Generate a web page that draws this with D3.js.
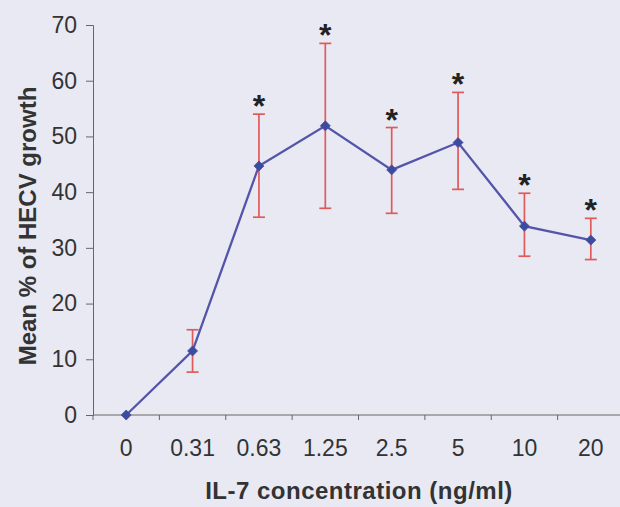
<!DOCTYPE html>
<html>
<head>
<meta charset="utf-8">
<script src="https://cdn.jsdelivr.net/npm/d3@7"></script>
<style>
  html, body { margin: 0; padding: 0; background: #e9e9f3; }
  svg { display: block; }
</style>
</head>
<body>
<svg id="chart"></svg>
<script>
// concentrations (ng/ml) and mean growth with error limits
const concentrations = ["0", "0.31", "0.63", "1.25", "2.5", "5", "10", "20"];
const meanGrowth = [0, 11.5, 44.7, 51.9, 44.0, 48.9, 33.9, 31.4];
const errorHigh = [null, 15.3, 54.0, 66.7, 51.6, 57.9, 39.8, 35.3];
const errorLow = [null, 7.7, 35.5, 37.1, 36.2, 40.5, 28.5, 27.9];
const significant = [false, false, true, true, true, true, true, true];
const yTicks = [0, 10, 20, 30, 40, 50, 60, 70];

const width = 620, height = 507;
const margin = { top: 25, right: -4, bottom: 92, left: 93 };
const font = "Liberation Sans, Arial, sans-serif";

const svg = d3.select("#chart")
    .attr("width", width)
    .attr("height", height);

svg.append("rect")
    .attr("width", width)
    .attr("height", height)
    .attr("fill", "#e9e9f3");

const innerW = width - margin.left - margin.right;
const innerH = height - margin.top - margin.bottom;

const g = svg.append("g")
    .attr("transform", `translate(${margin.left},${margin.top})`);

const data = concentrations.map((c, i) => ({
    conc: c,
    mean: meanGrowth[i],
    hi: errorHigh[i],
    lo: errorLow[i],
    sig: significant[i]
}));

const x = d3.scaleBand()
    .domain(concentrations)
    .range([0, innerW]);

const y = d3.scaleLinear()
    .domain([0, 70])
    .range([innerH, 0]);

const cx = d => x(d.conc) + x.bandwidth() / 2;

// y axis
const yAxis = g.append("g")
    .call(d3.axisLeft(y).tickValues(yTicks).tickSize(7).tickPadding(9));
yAxis.select(".domain").attr("stroke", "#666").attr("stroke-width", 1);
yAxis.selectAll(".tick line").attr("stroke", "#666");
yAxis.selectAll(".tick text")
    .attr("fill", "#333")
    .style("font-family", font)
    .style("font-size", "23px");

// x axis, ticks between categories
const xAxis = g.append("g")
    .attr("transform", `translate(0,${innerH})`);
xAxis.append("line")
    .attr("x1", 0).attr("x2", innerW)
    .attr("stroke", "#666");
xAxis.selectAll(".sep")
    .data(concentrations)
    .join("line")
    .attr("class", "sep")
    .attr("x1", d => x(d)).attr("x2", d => x(d))
    .attr("y1", 0).attr("y2", 5)
    .attr("stroke", "#666");
xAxis.selectAll(".lbl")
    .data(concentrations)
    .join("text")
    .attr("class", "lbl")
    .attr("x", d => x(d) + x.bandwidth() / 2)
    .attr("y", 41)
    .attr("text-anchor", "middle")
    .attr("fill", "#333")
    .style("font-family", font)
    .style("font-size", "23px")
    .text(d => d);

// axis titles
svg.append("text")
    .attr("x", 359)
    .attr("y", 499)
    .attr("text-anchor", "middle")
    .attr("fill", "#333")
    .style("font-family", font)
    .style("font-weight", "bold")
    .style("font-size", "24px")
    .style("letter-spacing", "0.5px")
    .text("IL-7 concentration (ng/ml)");

svg.append("text")
    .attr("transform", "translate(36,226) rotate(-90)")
    .attr("text-anchor", "middle")
    .attr("fill", "#333")
    .style("font-family", font)
    .style("font-weight", "bold")
    .style("font-size", "24px")
    .text("Mean % of HECV growth");

// error bars
const errData = data.filter(d => d.hi !== null);
const eb = g.append("g")
    .attr("stroke", "#e05a5a")
    .attr("stroke-width", 1.7);
eb.selectAll(".stem")
    .data(errData)
    .join("line")
    .attr("x1", cx).attr("x2", cx)
    .attr("y1", d => y(d.hi)).attr("y2", d => y(d.lo));
eb.selectAll(".capHi")
    .data(errData)
    .join("line")
    .attr("x1", d => cx(d) - 6).attr("x2", d => cx(d) + 6)
    .attr("y1", d => y(d.hi)).attr("y2", d => y(d.hi));
eb.selectAll(".capLo")
    .data(errData)
    .join("line")
    .attr("x1", d => cx(d) - 6).attr("x2", d => cx(d) + 6)
    .attr("y1", d => y(d.lo)).attr("y2", d => y(d.lo));

// mean line
g.append("path")
    .datum(data)
    .attr("fill", "none")
    .attr("stroke", "#5454aa")
    .attr("stroke-width", 2.3)
    .attr("d", d3.line().x(cx).y(d => y(d.mean)));

// diamond markers
g.selectAll(".pt")
    .data(data)
    .join("path")
    .attr("class", "pt")
    .attr("transform", d => `translate(${cx(d)},${y(d.mean)})`)
    .attr("d", d3.symbol(d3.symbolDiamond2, 64))
    .attr("fill", "#3b4c9e")
    .attr("stroke", "#4a4aa0")
    .attr("stroke-width", 0.8);

// significance stars
g.selectAll(".star")
    .data(data.filter(d => d.sig))
    .join("text")
    .attr("class", "star")
    .attr("x", cx)
    .attr("y", d => y(d.hi) + 3)
    .attr("text-anchor", "middle")
    .attr("fill", "#222")
    .style("font-family", font)
    .style("font-weight", "bold")
    .style("font-size", "32px")
    .text("*");
</script>
</body>
</html>
